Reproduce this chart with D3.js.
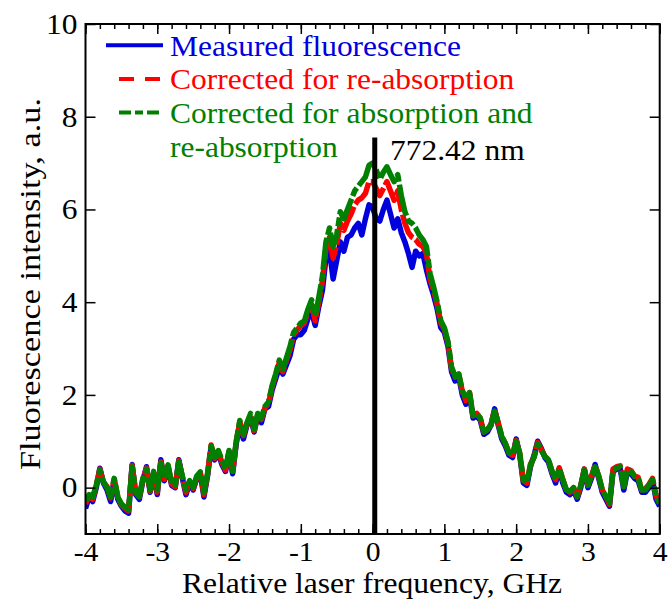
<!DOCTYPE html>
<html>
<head>
<meta charset="utf-8">
<script src="https://cdn.jsdelivr.net/npm/d3@7"></script>
<style>
  body { margin: 0; background: #fff; }
</style>
</head>
<body>
<div id="chart"></div>
<script>
// frequency grid of the scan, GHz (start, step, count)
const freqStart = -4, freqStep = 0.05, freqCount = 161;

const measured = [-0.45,-0.2,-0.3,0.0,0.42,0.1,-0.05,-0.3,0.15,-0.25,
  -0.4,-0.5,-0.55,0.5,-0.15,-0.25,0.15,0.45,-0.1,0.3,
  -0.15,0.6,0.15,0.45,0.05,0.0,0.6,0.2,-0.15,0.1,
  -0.05,0.2,0.3,-0.2,0.25,0.85,0.6,0.75,0.5,0.35,
  0.75,0.3,0.95,1.35,1.05,1.35,1.5,1.2,1.55,1.4,
  1.7,1.75,2.1,2.35,2.6,2.45,2.65,2.85,3.2,3.3,
  3.3,3.4,3.65,3.8,3.5,3.9,4.25,4.95,5.1,4.5,
  4.9,5.3,5.1,5.4,5.45,5.6,5.7,5.45,5.8,6.1,
  6.05,5.8,5.75,6.0,6.2,5.9,5.6,5.8,5.5,5.3,
  5.05,4.75,5.1,5.0,5.05,4.7,4.4,4.15,3.85,3.45,
  3.35,3.05,2.5,2.3,2.4,2.0,1.8,2.0,1.5,1.55,
  1.45,1.15,1.2,1.35,1.7,1.35,1.05,0.9,0.7,0.65,
  1.05,0.7,0.1,0.05,0.45,0.7,1.0,0.85,0.65,0.55,
  0.3,0.1,0.4,0.1,-0.1,-0.15,-0.05,-0.25,0.0,0.4,
  0.0,0.2,0.5,0.2,-0.1,-0.25,-0.4,0.35,0.4,0.4,
  -0.05,0.35,0.3,0.2,0.15,-0.1,-0.1,0.0,0.15,-0.25,
  -0.4];

const reabs = [-0.35,-0.18,-0.25,0.05,0.4,0.12,0.02,-0.22,0.18,-0.2,
  -0.38,-0.45,-0.5,0.48,-0.12,-0.2,0.18,0.42,-0.08,0.33,
  -0.1,0.56,0.18,0.47,0.08,0.02,0.58,0.22,-0.1,0.12,
  -0.02,0.22,0.32,-0.15,0.28,0.92,0.63,0.78,0.55,0.38,
  0.78,0.33,0.98,1.42,1.12,1.38,1.57,1.23,1.58,1.47,
  1.72,1.82,2.17,2.42,2.7,2.5,2.75,2.97,3.3,3.4,
  3.5,3.55,3.8,3.95,3.6,4.0,4.45,5.15,5.4,4.95,
  5.25,5.7,5.55,5.75,5.9,6.1,6.2,6.25,6.35,6.6,
  6.6,6.45,6.3,6.45,6.6,6.4,6.2,6.4,6.0,5.7,
  5.5,5.4,5.35,5.25,5.2,5.05,4.5,4.25,3.95,3.55,
  3.42,3.12,2.57,2.38,2.45,2.08,1.88,2.05,1.55,1.6,
  1.5,1.2,1.25,1.37,1.68,1.4,1.1,0.95,0.75,0.7,
  1.02,0.74,0.15,0.1,0.5,0.67,0.97,0.82,0.68,0.6,
  0.35,0.17,0.43,0.18,-0.05,-0.1,0.0,-0.2,0.05,0.4,
  0.05,0.25,0.48,0.25,-0.05,-0.2,-0.36,0.4,0.45,0.47,
  0.03,0.4,0.37,0.25,0.22,-0.05,-0.03,0.07,0.2,-0.18,
  -0.3];

const absReabs = [-0.3,-0.15,-0.2,0.05,0.38,0.13,0.0,-0.2,0.2,-0.2,
  -0.35,-0.42,-0.48,0.45,-0.1,-0.19,0.2,0.4,-0.05,0.35,
  -0.05,0.53,0.2,0.49,0.1,0.05,0.56,0.25,-0.05,0.15,
  0.0,0.25,0.34,-0.1,0.3,0.9,0.65,0.8,0.6,0.4,
  0.8,0.35,1.0,1.45,1.15,1.4,1.6,1.25,1.6,1.5,
  1.75,1.85,2.2,2.45,2.75,2.55,2.8,3.05,3.35,3.45,
  3.55,3.6,3.85,4.05,3.7,4.1,4.55,5.3,5.6,5.2,
  5.45,5.95,5.8,6.0,6.2,6.4,6.5,6.6,6.7,6.95,
  7.0,6.85,6.65,6.8,6.92,6.75,6.6,6.75,6.3,5.95,
  5.75,5.7,5.6,5.45,5.35,5.2,4.62,4.33,4.0,3.6,
  3.45,3.15,2.6,2.4,2.45,2.1,1.9,2.05,1.55,1.6,
  1.5,1.2,1.25,1.35,1.65,1.4,1.1,0.95,0.75,0.7,
  1.0,0.74,0.17,0.1,0.5,0.65,0.95,0.8,0.67,0.6,
  0.35,0.17,0.42,0.17,-0.05,-0.08,0.0,-0.19,0.05,0.38,
  0.05,0.25,0.45,0.25,-0.05,-0.19,-0.34,0.38,0.42,0.45,
  0.02,0.38,0.35,0.24,0.2,-0.05,-0.05,0.05,0.17,-0.2,
  -0.34];

const xTicks = [-4, -3, -2, -1, 0, 1, 2, 3, 4];
const yTicks = [0, 2, 4, 6, 8, 10];
const lineFreq = 0.03, lineTop = 7.55, lineLabel = "772.42 nm";

const series = [
  { name: ["Measured fluorescence"], values: measured, color: "#0000dd", dash: null, key: null },
  { name: ["Corrected for re-absorption"], values: reabs, color: "#ff0000", dash: "26,3", key: "15,11" },
  { name: ["Corrected for absorption and", "re-absorption"], values: absReabs, color: "#008000", dash: "32,3,9,3", key: "12,4,8,4" }
];

const W = 669, H = 604;
const L = 85.5, R = 659.7, T = 24, B = 534;
const serif = "'Liberation Serif', 'Times New Roman', Times, serif";

const svg = d3.select("#chart").append("svg")
  .attr("width", W).attr("height", H)
  .attr("font-family", serif);

// the original figure is a little wider than its type, widen glyphs to match
function widen(sel, size = 29, stretch = 1.085, fixed = null) {
  sel.each(function() {
    const n = d3.select(this);
    n.attr("font-family", serif).attr("font-size", size);
    const len = fixed || this.getComputedTextLength() * stretch;
    if (len > 0) n.attr("textLength", len).attr("lengthAdjust", "spacingAndGlyphs");
  });
  return sel;
}

const x = d3.scaleLinear().domain([-4, 4]).range([L, R]);
const y = d3.scaleLinear().domain([-1, 10]).range([B, T]);

const freq = d3.range(freqCount).map(i => freqStart + i * freqStep);

svg.append("clipPath").attr("id", "plot")
  .append("rect").attr("x", L).attr("y", T).attr("width", R - L).attr("height", B - T);

const line = d3.line()
  .x((d, i) => x(freq[i]))
  .y(d => y(d));

const plot = svg.append("g").attr("clip-path", "url(#plot)");

series.forEach(s => {
  plot.append("path")
    .attr("d", line(s.values))
    .attr("fill", "none")
    .attr("stroke", s.color)
    .attr("stroke-width", 5.5)
    .attr("stroke-linejoin", "round")
    .attr("stroke-dasharray", s.dash);
});

// wavelength marker
svg.append("line")
  .attr("x1", x(lineFreq)).attr("x2", x(lineFreq))
  .attr("y1", y(-1)).attr("y2", y(lineTop))
  .attr("stroke", "#000").attr("stroke-width", 5);

svg.append("text")
  .attr("x", 390).attr("y", 160)
  .text(lineLabel)
  .call(widen);

// axes, ticks inward
const minorX = d3.range(-40, 41, 2).map(v => v / 10);
const fmt = d => String(d);

svg.append("g").attr("transform", `translate(0,${B})`)
  .call(d3.axisBottom(x).tickValues(minorX).tickSize(-5).tickSizeOuter(0).tickFormat(""));
svg.append("g").attr("transform", `translate(0,${T})`)
  .call(d3.axisTop(x).tickValues(minorX).tickSize(-5).tickSizeOuter(0).tickFormat(""));
const xAxis = svg.append("g").attr("transform", `translate(0,${B})`)
  .call(d3.axisBottom(x).tickValues(xTicks).tickSize(-10).tickSizeOuter(0).tickFormat(fmt));
svg.append("g").attr("transform", `translate(0,${T})`)
  .call(d3.axisTop(x).tickValues(xTicks).tickSize(-10).tickSizeOuter(0).tickFormat(""));
const yAxis = svg.append("g").attr("transform", `translate(${L},0)`)
  .call(d3.axisLeft(y).tickValues(yTicks).tickSize(-10).tickSizeOuter(0).tickPadding(8).tickFormat(fmt));
svg.append("g").attr("transform", `translate(${R},0)`)
  .call(d3.axisRight(y).tickValues(yTicks).tickSize(-10).tickSizeOuter(0).tickFormat(""));

svg.selectAll(".domain").remove();
svg.selectAll(".tick line").attr("stroke", "#000").attr("stroke-width", 1.5);
svg.selectAll(".tick text").attr("fill", "#000");
xAxis.selectAll(".tick text").attr("dy", null).attr("y", 27).call(widen, 27, 1.1);
yAxis.selectAll(".tick text").call(widen);

svg.append("rect")
  .attr("x", L).attr("y", T).attr("width", R - L).attr("height", B - T)
  .attr("fill", "none").attr("stroke", "#000").attr("stroke-width", 2);

// axis titles
svg.append("text")
  .attr("x", 372).attr("y", 593)
  .attr("text-anchor", "middle")
  .text("Relative laser frequency, GHz")
  .call(widen, 28.5, 1, 380);

svg.append("text")
  .attr("transform", `translate(40,284) rotate(-90)`)
  .attr("text-anchor", "middle")
  .text("Fluorescence intensity, a.u.")
  .call(widen, 29, 1, 372);

// legend
const legendRows = [55.7, 89.4, 123];
series.forEach((s, i) => {
  const ly = legendRows[i];
  svg.append("line")
    .attr("x1", s.dash ? 119 : 106).attr("x2", 163)
    .attr("y1", ly - 10.5).attr("y2", ly - 10.5)
    .attr("stroke", s.color).attr("stroke-width", 4)
    .attr("stroke-dasharray", s.key);
  s.name.forEach((n, j) => {
    svg.append("text")
      .attr("x", 170).attr("y", ly + j * 33.7)
      .attr("fill", s.color)
      .text(n)
      .call(widen);
  });
});
</script>
</body>
</html>
